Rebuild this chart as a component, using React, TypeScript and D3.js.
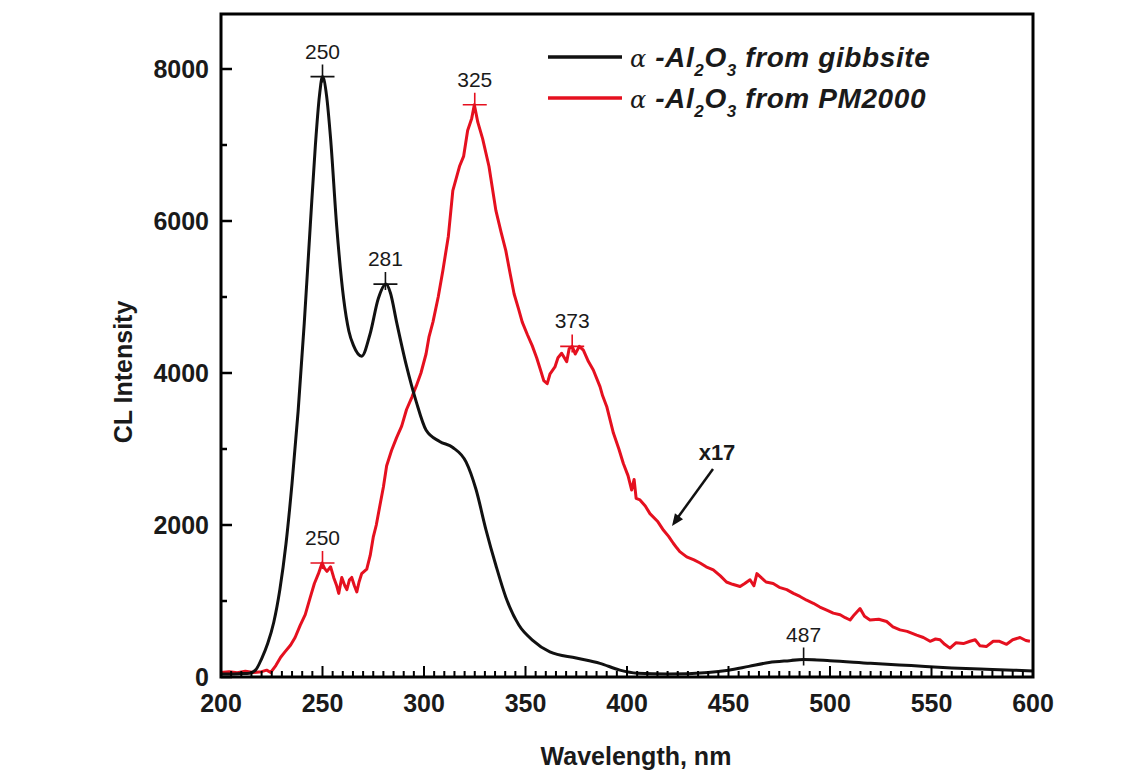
import * as d3 from 'd3';
import React, { useEffect, useRef } from 'react';

// alpha-Al2O3 from gibbsite (black)
const gibbsiteNm = [200, 205, 210, 214, 217, 220, 223, 226, 229, 232, 235, 238, 241, 244, 246.5, 248.5, 250, 252, 254, 257, 260.4, 263, 265.3, 269.3, 273.4, 277.5, 281.3, 283.5, 286.5, 291.4, 296.2, 301, 307.7, 314.2, 320.7, 325.6, 330.5, 335.4, 340.3, 346.8, 353.7, 362, 375, 386.7, 396.5, 405, 420, 440, 450, 460, 470, 480, 487, 500, 520, 540, 560, 580, 600];
const gibbsiteVal = [40, 40, 45, 50, 90, 240, 440, 720, 1150, 1750, 2550, 3500, 4650, 5950, 7000, 7650, 7900, 7650, 7080, 5930, 4980, 4550, 4360, 4220, 4510, 4980, 5170, 5050, 4670, 4090, 3620, 3250, 3100, 3020, 2830, 2470, 1940, 1470, 1050, 680, 480, 330, 250, 180, 90, 50, 40, 60, 90, 140, 190, 215, 230, 215, 180, 150, 120, 100, 80];

// alpha-Al2O3 from PM2000, x17 (red)
const pmNm = [200, 204, 208, 212, 216, 220, 222.5, 224.5, 227, 229.4, 231.5, 234.3, 236.5, 239, 241.5, 244, 246, 248, 249.8, 251, 252.2, 254, 255.5, 257, 258, 259.5, 261, 262, 263.3, 264.4, 265.7, 266.9, 268, 269.3, 271.8, 273.5, 275, 276.5, 278.3, 280, 281.6, 284, 286.5, 289, 291.4, 294, 296.2, 298.5, 301, 302.5, 304.4, 307, 309.3, 312, 314.2, 317.5, 319.5, 321.5, 323.5, 324.8, 326.5, 328.9, 332, 335.4, 338, 340.3, 342.5, 344.4, 346.5, 348.4, 351, 353.3, 355.5, 357.4, 359, 360.7, 362.1, 364.5, 366, 367.8, 370.3, 371.5, 373, 374.5, 376.5, 378.5, 381, 383.4, 386.7, 388, 390, 393.3, 396, 398.2, 400.5, 402.3, 403.5, 404.5, 406.4, 409, 411.3, 415, 418, 420.5, 422.8, 424.5, 426, 429.4, 433, 436, 439, 442.5, 446, 449, 452, 455.7, 458, 460.6, 462.5, 464, 466.4, 468.5, 472, 475, 478.7, 482, 485.2, 488.5, 491.8, 495, 498.4, 501.6, 505, 507.5, 509.9, 512, 514.8, 517, 519.7, 524, 527.9, 531, 534.5, 538, 542.7, 546, 549.3, 552, 554.2, 556.5, 559.1, 562, 565.7, 569, 571.5, 573.9, 577, 580.4, 583.5, 587, 590, 593.6, 596.5, 598.5, 600];
const pmVal = [60, 70, 55, 75, 60, 70, 90, 60, 150, 260, 330, 420, 520, 680, 820, 1050, 1230, 1360, 1500, 1430, 1390, 1450, 1310, 1200, 1100, 1310, 1200, 1150, 1280, 1310, 1200, 1120, 1250, 1360, 1420, 1600, 1840, 2000, 2260, 2500, 2780, 2980, 3150, 3300, 3520, 3680, 3830, 4000, 4250, 4480, 4670, 5000, 5350, 5800, 6400, 6720, 6850, 7190, 7350, 7530, 7300, 7080, 6720, 6140, 5850, 5610, 5300, 5040, 4850, 4670, 4500, 4360, 4200, 4040, 3900, 3860, 3990, 4080, 4200, 4260, 4150, 4320, 4350, 4250, 4350, 4300, 4150, 4040, 3820, 3700, 3560, 3210, 3000, 2810, 2650, 2460, 2600, 2350, 2330, 2250, 2150, 2050, 1930, 1850, 1760, 1700, 1650, 1580, 1540, 1500, 1450, 1410, 1330, 1250, 1220, 1190, 1230, 1280, 1200, 1360, 1300, 1250, 1230, 1180, 1150, 1100, 1060, 1010, 970, 920, 880, 840, 820, 780, 750, 820, 900, 800, 750, 760, 730, 660, 620, 600, 550, 520, 470, 500, 490, 430, 380, 450, 440, 470, 490, 410, 400, 470, 470, 430, 490, 520, 480, 470];

const yTicks = [0, 2000, 4000, 6000, 8000];
const yMinorTicks = [1000, 3000, 5000, 7000];
const xTicks = [200, 250, 300, 350, 400, 450, 500, 550, 600];

// peak markers: [wavelength, value at the marker, label]
const blackPeaks: [number, number, string][] = [
  [250, 7900, '250'],
  [281, 5170, '281'],
  [487, 230, '487'],
];
const redPeaks: [number, number, string][] = [
  [250, 1500, '250'],
  [325, 7530, '325'],
  [373, 4350, '373'],
];

const W = 1143;
const H = 771;
const RED = '#e5101f';
const FONT = 'Liberation Sans, Arial, sans-serif';

const Chart = () => {
  const ref = useRef<SVGSVGElement>(null);

  useEffect(() => {
    const svg = d3.select(ref.current);
    svg.selectAll('*').remove();

    const left = 221;
    const right = 1033;
    const top = 14;
    const bottom = 677;

    const xScale = d3.scaleLinear().domain([200, 600]).range([left, right]);
    const yScale = d3.scaleLinear().domain([0, 8000]).range([bottom, 69]);

    svg.append('rect').attr('width', W).attr('height', H).attr('fill', '#fff');

    // curves
    const blackLine = d3
      .line<number>()
      .x((d, i) => xScale(gibbsiteNm[i]))
      .y(d => yScale(d))
      .curve(d3.curveMonotoneX);
    const redLine = d3
      .line<number>()
      .x((d, i) => xScale(pmNm[i]))
      .y(d => yScale(d));

    svg
      .append('path')
      .attr('d', redLine(pmVal))
      .attr('fill', 'none')
      .attr('stroke', RED)
      .attr('stroke-width', 3)
      .attr('stroke-linejoin', 'round');
    svg
      .append('path')
      .attr('d', blackLine(gibbsiteVal))
      .attr('fill', 'none')
      .attr('stroke', '#111')
      .attr('stroke-width', 3);

    // frame
    svg
      .append('rect')
      .attr('x', left)
      .attr('y', top)
      .attr('width', right - left)
      .attr('height', bottom - top)
      .attr('fill', 'none')
      .attr('stroke', '#000')
      .attr('stroke-width', 3);

    // x ticks (inward)
    const xMinor = d3.range(200, 601, 5);
    svg
      .append('g')
      .selectAll('line')
      .data(xMinor)
      .join('line')
      .attr('x1', d => xScale(d))
      .attr('x2', d => xScale(d))
      .attr('y1', bottom)
      .attr('y2', d => (d % 50 === 0 ? bottom - 11 : bottom - 6))
      .attr('stroke', '#000')
      .attr('stroke-width', 2);

    svg
      .append('g')
      .selectAll('text')
      .data(xTicks)
      .join('text')
      .attr('x', d => xScale(d))
      .attr('y', 712)
      .attr('text-anchor', 'middle')
      .attr('font-family', FONT)
      .attr('font-weight', 'bold')
      .attr('font-size', 25)
      .attr('fill', '#1a1a1a')
      .text(d => d);

    // y ticks (inward)
    svg
      .append('g')
      .selectAll('line')
      .data([...yTicks, ...yMinorTicks])
      .join('line')
      .attr('x1', left)
      .attr('x2', d => (d % 2000 === 0 ? left + 11 : left + 6))
      .attr('y1', d => yScale(d))
      .attr('y2', d => yScale(d))
      .attr('stroke', '#000')
      .attr('stroke-width', 2.5);

    svg
      .append('g')
      .selectAll('text')
      .data(yTicks)
      .join('text')
      .attr('x', 209)
      .attr('y', d => yScale(d) + 9)
      .attr('text-anchor', 'end')
      .attr('font-family', FONT)
      .attr('font-weight', 'bold')
      .attr('font-size', 25)
      .attr('fill', '#1a1a1a')
      .text(d => d);

    // axis titles
    svg
      .append('text')
      .attr('transform', `translate(132,372) rotate(-90)`)
      .attr('text-anchor', 'middle')
      .attr('font-family', FONT)
      .attr('font-weight', 'bold')
      .attr('font-size', 25)
      .attr('fill', '#1a1a1a')
      .text('CL Intensity');
    svg
      .append('text')
      .attr('x', 636)
      .attr('y', 765)
      .attr('text-anchor', 'middle')
      .attr('font-family', FONT)
      .attr('font-weight', 'bold')
      .attr('font-size', 25)
      .attr('fill', '#1a1a1a')
      .text('Wavelength, nm');

    // peak markers and labels
    const drawPeaks = (peaks: [number, number, string][], color: string) => {
      peaks.forEach(([nm, v, label]) => {
        const cx = xScale(nm);
        const cy = yScale(v);
        svg
          .append('path')
          .attr('d', `M${cx - 12},${cy}H${cx + 12}M${cx},${cy - 12}V${cy + 6}`)
          .attr('stroke', color)
          .attr('stroke-width', 1.6);
        svg
          .append('text')
          .attr('x', cx)
          .attr('y', cy - 18)
          .attr('text-anchor', 'middle')
          .attr('font-family', FONT)
          .attr('font-size', 21)
          .attr('fill', '#1a1a1a')
          .text(label);
      });
    };
    drawPeaks(blackPeaks, '#111');
    drawPeaks(redPeaks, RED);

    // legend
    const legend = [
      { y: 57, color: '#111', rest: ' from gibbsite' },
      { y: 98, color: RED, rest: ' from PM2000' },
    ];
    legend.forEach(l => {
      svg
        .append('line')
        .attr('x1', 548)
        .attr('x2', 622)
        .attr('y1', l.y)
        .attr('y2', l.y)
        .attr('stroke', l.color)
        .attr('stroke-width', 3.5);
      const t = svg
        .append('text')
        .attr('x', 630)
        .attr('y', l.y + 10)
        .attr('font-family', FONT)
        .attr('font-size', 28)
        .attr('font-style', 'italic')
        .attr('letter-spacing', 0.6)
        .attr('fill', '#1a1a1a');
      t.append('tspan').attr('font-family', 'DejaVu Serif, serif').attr('font-size', 24).text('α');
      t.append('tspan').attr('font-weight', 'bold').text(' -Al');
      t.append('tspan').attr('font-weight', 'bold').attr('font-size', 17).attr('dy', 9).text('2');
      t.append('tspan').attr('font-weight', 'bold').attr('dy', -9).text('O');
      t.append('tspan').attr('font-weight', 'bold').attr('font-size', 17).attr('dy', 9).text('3');
      t.append('tspan').attr('font-weight', 'bold').attr('dy', -9).text(l.rest);
    });

    // x17 annotation with arrow
    svg
      .append('text')
      .attr('x', 717)
      .attr('y', 460)
      .attr('text-anchor', 'middle')
      .attr('font-family', FONT)
      .attr('font-weight', 'bold')
      .attr('font-size', 22)
      .attr('fill', '#1a1a1a')
      .text('x17');
    const ax0 = 713;
    const ay0 = 469;
    const ax1 = 672;
    const ay1 = 526;
    svg
      .append('line')
      .attr('x1', ax0)
      .attr('y1', ay0)
      .attr('x2', ax1 + 4)
      .attr('y2', ay1 - 6)
      .attr('stroke', '#111')
      .attr('stroke-width', 2.5);
    const ang = Math.atan2(ay1 - ay0, ax1 - ax0);
    const hl = 12;
    const hw = 5;
    const bx = ax1 - hl * Math.cos(ang);
    const by = ay1 - hl * Math.sin(ang);
    svg
      .append('path')
      .attr(
        'd',
        `M${ax1},${ay1}L${bx + hw * Math.sin(ang)},${by - hw * Math.cos(ang)}L${bx - hw * Math.sin(ang)},${by + hw * Math.cos(ang)}Z`
      )
      .attr('fill', '#111');
  }, []);

  return <svg ref={ref} width={W} height={H} style={{ position: 'absolute', left: 0, top: 0 }} />;
};

export default function App() {
  return <Chart />;
}
